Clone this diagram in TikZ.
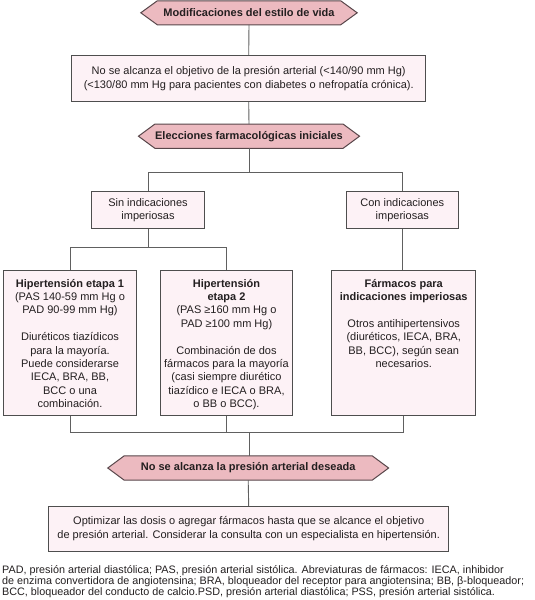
\documentclass[tikz,border=0pt]{standalone}
\usepackage{fontspec}
\setmainfont{Liberation Sans}
\usetikzlibrary{backgrounds}
\definecolor{hexfill}{RGB}{236,186,192}
\definecolor{boxfill}{RGB}{253,242,246}
\definecolor{edgec}{RGB}{78,78,78}
\definecolor{hexedge}{RGB}{88,70,74}
\definecolor{linec}{RGB}{96,96,96}
\definecolor{txt}{RGB}{35,31,32}
\newcommand\hdr[1]{\textbf{#1}}
\tikzset{
  basefont/.style={font=\fontsize{11}{13.4}\selectfont, text=txt},
  box/.style={basefont, draw=edgec, fill=boxfill, line width=0.9pt, align=center, inner sep=0pt},
  stagebox/.style={draw=edgec, fill=boxfill, line width=0.9pt, inner sep=0pt, minimum height=145pt},
  stagetext/.style={basefont, align=center, inner sep=0pt, anchor=north, yshift=-8.5pt},
  hextext/.style={font=\fontsize{11}{13}\selectfont\bfseries, text=txt, inner sep=0pt},
  hexshape/.style={draw=hexedge, fill=hexfill, line width=1pt, line join=miter},
  conn/.style={draw=linec, line width=0.9pt},
}
\begin{document}
\begin{tikzpicture}[x=1pt,y=-1pt]
\useasboundingbox (0,0) rectangle (535,600);

% hexagon headings (text nodes)
\node[hextext, minimum width=183pt, minimum height=23.6pt] (h1) at (249,12.8) {Modificaciones del estilo de vida};
\node[hextext, minimum width=183pt, minimum height=23.9pt] (h2) at (249,136.2) {Elecciones farmacológicas iniciales};
\node[hextext, minimum width=247.5pt, minimum height=24pt] (h3) at (248.2,468) {No se alcanza la presión arterial deseada};

% boxes
\node[box, minimum width=354pt, minimum height=45.7pt] (b1) at (248.7,78.5)
  {No se alcanza el objetivo de la presión arterial (<140/90 mm Hg)\\(<130/80 mm Hg para pacientes con diabetes o nefropatía crónica).};
\node[box, minimum width=113pt, minimum height=36.8pt] (sin) at (148,210.3) {Sin indicaciones\\imperiosas};
\node[box, minimum width=112pt, minimum height=36.8pt] (con) at (402.3,210.3) {Con indicaciones\\imperiosas};

\node[stagebox, minimum width=133pt] (s1) at (70,343.2) {};
\node[stagebox, minimum width=132.4pt] (s2) at (226.5,343.2) {};
\node[stagebox, minimum width=144pt] (far) at (403.7,343.2) {};

\node[stagetext] (s1t) at (s1.north) {\hdr{Hipertensión etapa 1}\\(PAS 140-59 mm Hg o\\PAD 90-99 mm Hg)\\[13.4pt]Diuréticos tiazídicos\\para la mayoría.\\Puede considerarse\\IECA, BRA, BB,\\BCC o una\\combinación.};
\node[stagetext] (s2t) at (s2.north) {\hdr{Hipertensión}\\\hdr{etapa 2}\\(PAS ≥160 mm Hg o\\PAD ≥100 mm Hg)\\[13.4pt]Combinación de dos\\fármacos para la mayoría\\(casi siempre diurético\\tiazídico e IECA o BRA,\\o BB o BCC).};
\node[stagetext] (fart) at (far.north) {\hdr{Fármacos para}\\\hdr{indicaciones imperiosas}\\[13.4pt]Otros antihipertensivos\\(diuréticos, IECA, BRA,\\BB, BCC), según sean\\necesarios.};

\node[box, minimum width=400pt, minimum height=44.5pt] (b2) at (248.7,528.7)
  {Optimizar las dosis o agregar fármacos hasta que se alcance el objetivo\\de presión arterial. Considerar la consulta con un especialista en hipertensión.};

\node[font=\fontsize{10.8}{10.9}\selectfont, text=txt, align=left, inner sep=0pt, anchor=north west] (fn) at (2,565.5)
  {PAD, presión arterial diastólica; PAS, presión arterial sistólica. Abreviaturas de fármacos: IECA, inhibidor\\de enzima convertidora de angiotensina; BRA, bloqueador del receptor para angiotensina; BB, β-bloqueador;\\BCC, bloqueador del conducto de calcio.PSD, presión arterial diastólica; PSS, presión arterial sistólica.};

% junction coordinates
\coordinate (j1) at (249,172.4);
\coordinate (j2) at (148,247.3);
\coordinate (j3) at (249,432);

\begin{scope}[on background layer]
  \foreach \h in {h1,h2,h3}{
    \path[hexshape] (\h.north west) -- (\h.north east) -- ([xshift=16.5pt]\h.east) -- (\h.south east)
      -- (\h.south west) -- ([xshift=-16.5pt]\h.west) -- cycle;
  }
  \draw[conn] (h1.south) -- (b1.north);
  \draw[conn] (b1.south) -- (h2.north);
  \draw[conn] (h2.south) -- (h2.south |- j1);
  \draw[conn] (sin.north) |- (j1) -| (con.north);
  \draw[conn] (sin.south) -- (j2);
  \draw[conn] (s1.north) |- (j2) -| (s2.north);
  \draw[conn] (con.south) -- (con.south |- far.north);
  \draw[conn] (s1.south) |- (j3);
  \draw[conn] (far.south) |- (j3);
  \draw[conn] (s2.south) -- (s2.south |- j3);
  \draw[conn] (j3) -- (j3 |- h3.north);
  \draw[conn] (h3.south) -- (b2.north);
\end{scope}
\end{tikzpicture}
\end{document}
